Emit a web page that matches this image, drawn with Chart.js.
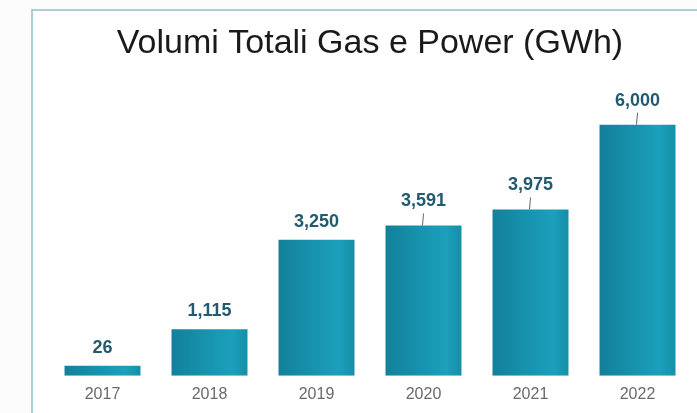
<!DOCTYPE html>
<html>
<head>
<meta charset="utf-8">
<script src="https://cdn.jsdelivr.net/npm/chart.js@4"></script>
<style>
  html, body { margin: 0; padding: 0; background: #fbfcfb; overflow: hidden; }
  .card {
    position: absolute; left: 31px; top: 9px; width: 700px; height: 420px;
    border-left: 2px solid #a7d0d8; border-top: 2px solid #a7d0d8;
    background: #ffffff;
  }
  .wrap { position: absolute; left: 0; top: 0; width: 674px; height: 402px; }
</style>
</head>
<body>
<div class="card"><div class="wrap"><canvas id="volumi"></canvas></div></div>
<script>
var years = ['2017', '2018', '2019', '2020', '2021', '2022'];
var volumes = [26, 1115, 3250, 3591, 3975, 6000];
var leaderYears = ['2020', '2021', '2022'];

// horizontal teal shading across each bar
function barFill(c) {
  var bar = c.chart.getDatasetMeta(0).data[c.dataIndex];
  if (!bar || bar.x == null || !bar.width) return '#1791ab';
  var g = c.chart.ctx.createLinearGradient(bar.x - bar.width / 2, 0, bar.x + bar.width / 2, 0);
  g.addColorStop(0, '#13809a');
  g.addColorStop(0.45, '#1793ae');
  g.addColorStop(0.8, '#1ba0bb');
  g.addColorStop(1, '#168ea8');
  return g;
}

var valueLabels = {
  id: 'valueLabels',
  afterDatasetsDraw: function (chart) {
    var ctx = chart.ctx;
    var meta = chart.getDatasetMeta(0);
    ctx.save();
    ctx.font = 'bold 18px "Liberation Sans", Arial, sans-serif';
    ctx.fillStyle = '#225a70';
    ctx.textAlign = 'center';
    ctx.textBaseline = 'middle';
    meta.data.forEach(function (bar, i) {
      var leader = leaderYears.indexOf(years[i]) >= 0;
      var gap = leader ? 24 : 18;
      if (leader) {
        ctx.strokeStyle = '#5a6a70';
        ctx.lineWidth = 1;
        ctx.beginPath();
        ctx.moveTo(bar.x - 1, bar.y);
        ctx.lineTo(bar.x, bar.y - 12);
        ctx.stroke();
      }
      ctx.fillText(volumes[i].toLocaleString('en-US'), bar.x, bar.y - gap);
    });
    ctx.restore();
  }
};

var chart = new Chart(document.getElementById('volumi'), {
  type: 'bar',
  data: {
    labels: years,
    datasets: [{
      label: 'Volumi (GWh)',
      data: volumes,
      backgroundColor: barFill,
      borderWidth: 0,
      categoryPercentage: 1,
      barPercentage: 0.71,
      minBarLength: 10
    }]
  },
  options: {
    responsive: true,
    maintainAspectRatio: false,
    animation: false,
    layout: { padding: { left: 16, right: 16, top: 0, bottom: 0 } },
    plugins: {
      legend: { display: false },
      tooltip: { enabled: false },
      title: {
        display: true,
        text: 'Volumi Totali Gas e Power (GWh)',
        color: '#1a1a1a',
        font: { family: '"Liberation Sans", Arial, sans-serif', size: 34, weight: 'normal' },
        padding: { top: 12, bottom: 19 }
      }
    },
    scales: {
      x: {
        grid: { display: false, drawTicks: false },
        border: { display: false },
        ticks: {
          color: '#6a6a6a',
          padding: 9,
          font: { family: '"Liberation Sans", Arial, sans-serif', size: 16 }
        }
      },
      y: {
        display: false,
        min: 0,
        max: 7000
      }
    }
  },
  plugins: [valueLabels]
});
chart.update('none');
</script>
</body>
</html>
